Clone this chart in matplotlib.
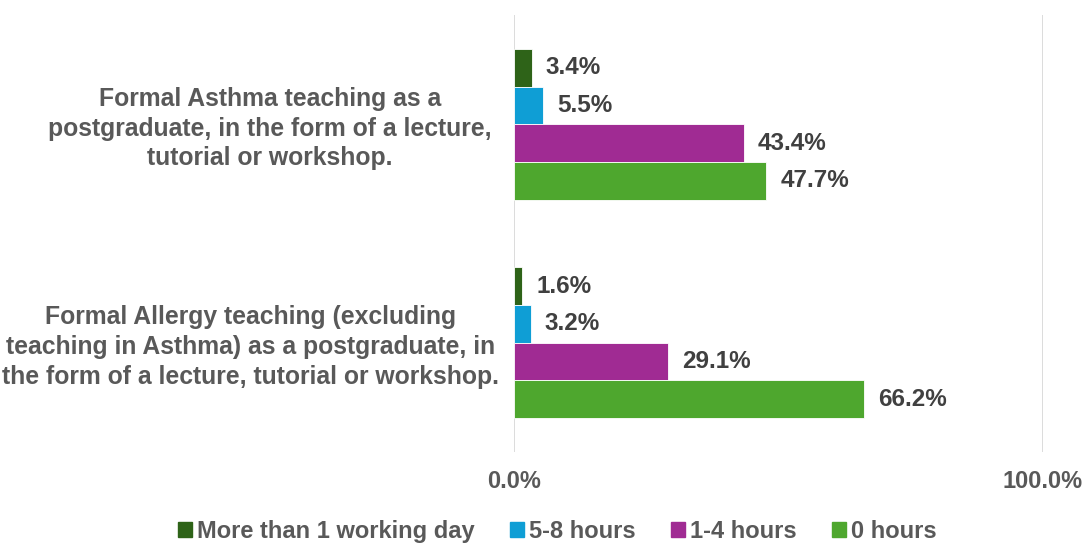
import numpy as np
import matplotlib.pyplot as plt
from matplotlib.patches import Patch
from matplotlib.transforms import blended_transform_factory

plt.rcParams["font.family"] = ["Liberation Sans", "DejaVu Sans"]
plt.rcParams["font.weight"] = "bold"

categories = [
    "Formal Asthma teaching as a\npostgraduate, in the form of a lecture,\ntutorial or workshop.",
    "Formal Allergy teaching (excluding\nteaching in Asthma) as a postgraduate, in\nthe form of a lecture, tutorial or workshop.",
]
series_names = ["More than 1 working day", "5-8 hours", "1-4 hours", "0 hours"]
values = {
    "More than 1 working day": [3.4, 1.6],
    "5-8 hours": [5.5, 3.2],
    "1-4 hours": [43.4, 29.1],
    "0 hours": [47.7, 66.2],
}
colors = ["#2E6318", "#0F9ED5", "#A02B93", "#4EA72E"]
xticks = [0, 100]
xtick_labels = ["0.0%", "100.0%"]

text_col = "#404040"
label_col = "#595959"

fig = plt.figure(figsize=(10.84, 5.45), dpi=100)
ax = fig.add_axes([514 / 1084, 1 - 452 / 545, (1043 - 514) / 1084, (452 - 15) / 545])

bar_h = 0.1725
centers = np.array([0.5, 1.5])
for i, name in enumerate(series_names):
    ypos = centers + (i - 1.5) * bar_h
    bars = ax.barh(ypos, values[name], height=bar_h, color=colors[i],
                   edgecolor="white", linewidth=0.6)
    for b, v in zip(bars, values[name]):
        ax.annotate(f"{v:.1f}%", (b.get_width(), b.get_y() + b.get_height() / 2),
                    xytext=(10, 0), textcoords="offset points", va="center",
                    ha="left", fontsize=17.5, color=text_col, fontweight="bold")

ax.set_ylim(2, 0)
ax.set_xlim(0, 100)
ax.set_xticks(xticks)
ax.set_xticklabels(xtick_labels, fontsize=17, color=label_col, fontweight="bold")
ax.tick_params(axis="x", length=0, pad=13)
ax.set_yticks([])
ax.grid(axis="x", color="#D9D9D9", linewidth=1.3)
ax.set_axisbelow(True)
for s in ax.spines.values():
    s.set_visible(False)

trans = blended_transform_factory(fig.transFigure, ax.transData)
cat_x = [270 / 1084, 251 / 1084]
for cx, c, y in zip(cat_x, categories, centers):
    ax.text(cx, y + 0.02, c, transform=trans,
            ha="center", va="center", multialignment="center",
            fontsize=17.8, color=label_col, fontweight="bold", linespacing=1.3)

handles = [Patch(color=c) for c in colors]
fig.legend(handles, series_names, loc="lower center", bbox_to_anchor=(0.514, -0.035),
           ncol=4, frameon=False, fontsize=17, handlelength=0.6, handleheight=0.6,
           handletextpad=0.2, columnspacing=1.5, labelcolor=label_col)

fig.savefig("out.png", dpi=100)
